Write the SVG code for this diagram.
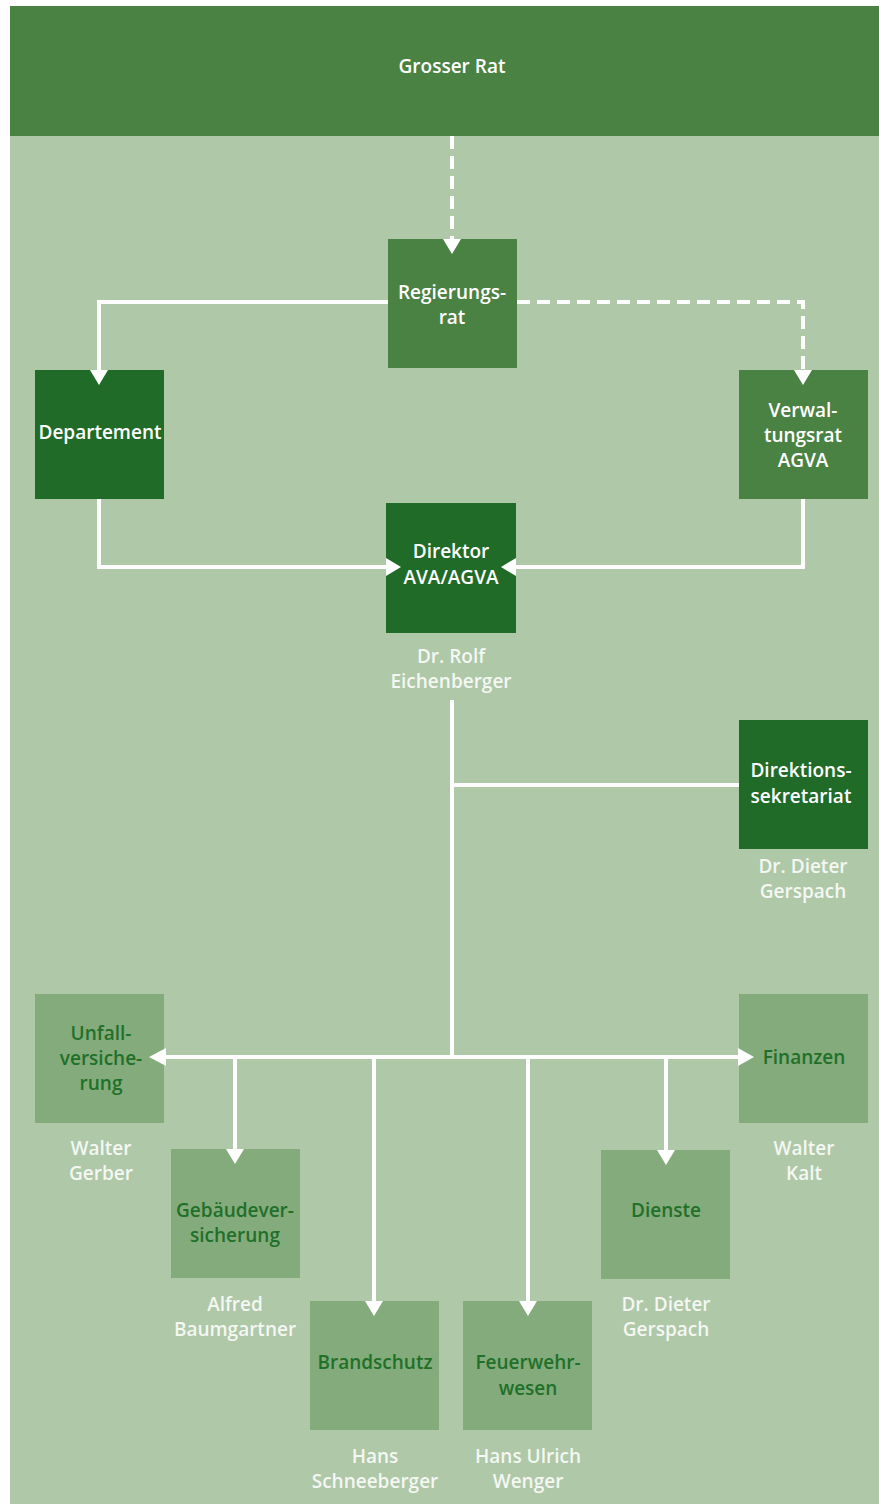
<svg xmlns="http://www.w3.org/2000/svg" width="879" height="1504" viewBox="0 0 879 1504">
<defs>
<style>
.t{font-family:"Open Sans","Noto Sans","DejaVu Sans",sans-serif;font-weight:600;font-size:19px;text-anchor:middle}
.w{fill:#ffffff}
.g{fill:#217029}
.n{fill:#f4f7f2}
.dk{fill:#206b28}
.md{fill:#4a8244}
.lt{fill:#84ab7b}
.c{stroke:#ffffff;stroke-width:4;fill:none}
.d{stroke-dasharray:13 7}
.ah{fill:#ffffff}
</style>
</defs>
<rect x="0" y="0" width="879" height="1504" fill="#ffffff"/>
<rect x="10" y="136" width="869" height="1368" fill="#aec8a8"/>
<g id="grosser-rat">
<rect x="10" y="6" width="869" height="130" class="md"/>
<text class="t w" x="452" y="73">Grosser Rat</text>
</g>
<g id="connectors">
<path class="c d" d="M452,136 V241"/>
<path class="c" d="M388,302 H99 V372"/>
<path class="c d" d="M517,302 H803 V372"/>
<path class="c" d="M99,499 V567 H388"/>
<path class="c" d="M803,499 V567 H514"/>
<path class="c" d="M452,700 V1057"/>
<path class="c" d="M452,785 H739"/>
<path class="c" d="M166,1057 H738"/>
<path class="c" d="M235,1057 V1151"/>
<path class="c" d="M374,1057 V1303"/>
<path class="c" d="M528,1057 V1303"/>
<path class="c" d="M666,1057 V1152"/>
</g>
<g id="regierungsrat">
<rect x="388" y="239" width="129" height="129" class="md"/>
<text class="t w" x="452" y="299">Regierungs-</text>
<text class="t w" x="452" y="324">rat</text>
</g>
<g id="departement">
<rect x="35" y="370" width="129" height="129" class="dk"/>
<text class="t w" x="100" y="439">Departement</text>
</g>
<g id="verwaltungsrat">
<rect x="739" y="370" width="129" height="129" class="md"/>
<text class="t w" x="803" y="417">Verwal-</text>
<text class="t w" x="803" y="442">tungsrat</text>
<text class="t w" x="803" y="467">AGVA</text>
</g>
<g id="direktor">
<rect x="386" y="503" width="130" height="130" class="dk"/>
<text class="t w" x="451" y="558">Direktor</text>
<text class="t w" x="451" y="584">AVA/AGVA</text>
<text class="t n" x="451" y="663">Dr. Rolf</text>
<text class="t n" x="451" y="688">Eichenberger</text>
</g>
<g id="direktionssekretariat">
<rect x="739" y="720" width="129" height="129" class="dk"/>
<text class="t w" x="801" y="777">Direktions-</text>
<text class="t w" x="801" y="803">sekretariat</text>
<text class="t n" x="803" y="873">Dr. Dieter</text>
<text class="t n" x="803" y="898">Gerspach</text>
</g>
<g id="unfallversicherung">
<rect x="35" y="994" width="129" height="129" class="lt"/>
<text class="t g" x="101" y="1040">Unfall-</text>
<text class="t g" x="101" y="1065">versiche-</text>
<text class="t g" x="101" y="1090">rung</text>
<text class="t n" x="101" y="1155">Walter</text>
<text class="t n" x="101" y="1180">Gerber</text>
</g>
<g id="gebaeudeversicherung">
<rect x="171" y="1149" width="129" height="129" class="lt"/>
<text class="t g" x="235" y="1217">Gebäudever-</text>
<text class="t g" x="235" y="1242">sicherung</text>
<text class="t n" x="235" y="1311">Alfred</text>
<text class="t n" x="235" y="1336">Baumgartner</text>
</g>
<g id="brandschutz">
<rect x="310" y="1301" width="129" height="129" class="lt"/>
<text class="t g" x="375" y="1369">Brandschutz</text>
<text class="t n" x="375" y="1463">Hans</text>
<text class="t n" x="375" y="1488">Schneeberger</text>
</g>
<g id="feuerwehrwesen">
<rect x="463" y="1301" width="129" height="129" class="lt"/>
<text class="t g" x="528" y="1369">Feuerwehr-</text>
<text class="t g" x="528" y="1395">wesen</text>
<text class="t n" x="528" y="1463">Hans Ulrich</text>
<text class="t n" x="528" y="1488">Wenger</text>
</g>
<g id="dienste">
<rect x="601" y="1150" width="129" height="129" class="lt"/>
<text class="t g" x="666" y="1217">Dienste</text>
<text class="t n" x="666" y="1311">Dr. Dieter</text>
<text class="t n" x="666" y="1336">Gerspach</text>
</g>
<g id="finanzen">
<rect x="739" y="994" width="129" height="129" class="lt"/>
<text class="t g" x="804" y="1064">Finanzen</text>
<text class="t n" x="804" y="1155">Walter</text>
<text class="t n" x="804" y="1180">Kalt</text>
</g>
<g id="arrowheads">
<polygon class="ah" points="443,239 461,239 452,254"/>
<polygon class="ah" points="90,370 108,370 99,385"/>
<polygon class="ah" points="794,370 812,370 803,385"/>
<polygon class="ah" points="386,558 386,576 401,567"/>
<polygon class="ah" points="516,558 516,576 501,567"/>
<polygon class="ah" points="166,1048 166,1066 149,1057"/>
<polygon class="ah" points="738,1048 738,1066 754,1057"/>
<polygon class="ah" points="226,1149 244,1149 235,1164"/>
<polygon class="ah" points="365,1301 383,1301 374,1316"/>
<polygon class="ah" points="519,1301 537,1301 528,1316"/>
<polygon class="ah" points="657,1150 675,1150 666,1165"/>
</g>
</svg>
